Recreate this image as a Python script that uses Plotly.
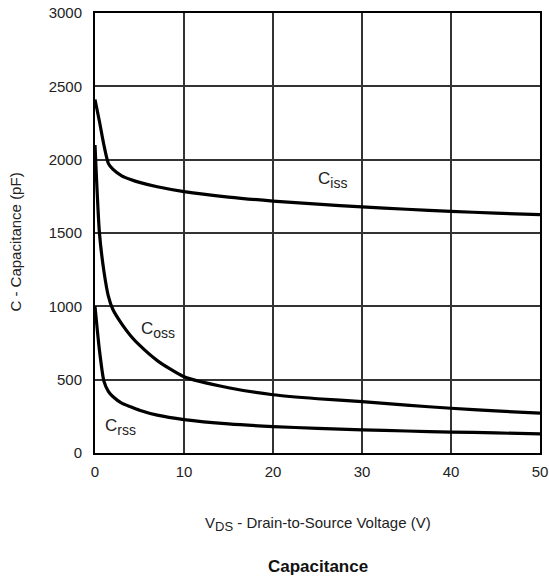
import plotly.graph_objects as go

# Drain-to-source voltage (V)
vds = [0, 0.5, 1, 1.5, 2, 3, 4, 5, 7, 10, 15, 20, 25, 30, 35, 40, 45, 50]

# Capacitances (pF)
ciss = [2410, 2260, 2100, 1975, 1935, 1890, 1865, 1845, 1815, 1782, 1745, 1718, 1697, 1678, 1662, 1648, 1635, 1625]
coss = [2100, 1500, 1240, 1070, 980, 880, 800, 735, 630, 520, 445, 397, 370, 350, 326, 305, 287, 272]
crss = [1000, 700, 490, 420, 385, 340, 315, 292, 258, 228, 198, 180, 168, 158, 150, 143, 137, 130]

x_ticks = [0, 10, 20, 30, 40, 50]
y_ticks = [0, 500, 1000, 1500, 2000, 2500, 3000]

# Curve labels: (name, subscript, x, y)
curve_labels = [
    ("C", "iss", 26.7, 1862),
    ("C", "oss", 7.1, 840),
    ("C", "rss", 2.85, 177),
]

FONT = "Liberation Sans, Arial, Helvetica, sans-serif"

fig = go.Figure()
for ys in (ciss, coss, crss):
    fig.add_trace(go.Scatter(
        x=vds, y=ys, mode="lines",
        line=dict(color="black", width=3.2, shape="spline", smoothing=0.6),
        showlegend=False, hoverinfo="skip",
    ))

for name, sub, x, y in curve_labels:
    fig.add_annotation(
        x=x, y=y, showarrow=False,
        text=f'{name}<sub><span style="font-size:14px">{sub}</span></sub>',
        font=dict(family=FONT, size=17, color="#222"),
    )

fig.add_annotation(xref="paper", yref="paper", x=0.5, y=-0.162,
                   text='V<sub><span style="font-size:13px">DS</span></sub> - Drain-to-Source Voltage (V)',
                   showarrow=False, yanchor="middle",
                   font=dict(family=FONT, size=15, color="#222"))
fig.add_annotation(xref="paper", yref="paper", x=0.5, y=-0.257,
                   text="<b>Capacitance</b>", showarrow=False, yanchor="middle",
                   font=dict(family=FONT, size=17, color="#111"))
fig.add_annotation(xref="paper", yref="paper", x=-0.178, y=0.48,
                   text="C - Capacitance (pF)", textangle=-90,
                   showarrow=False, xanchor="center", yanchor="middle",
                   font=dict(family=FONT, size=15, color="#222"))

axis_common = dict(
    showline=True, linecolor="black", linewidth=2, mirror=True,
    showgrid=True, gridcolor="#333", gridwidth=1.5,
    zeroline=False, ticks="", automargin=False,
    tickfont=dict(family=FONT, size=15, color="#222"),
)

fig.update_xaxes(range=[0, 50], tickvals=x_ticks, ticklabelstandoff=4, **axis_common)
fig.update_yaxes(range=[0, 3000], tickvals=y_ticks, ticklabelstandoff=8, **axis_common)

fig.update_layout(
    width=549, height=580,
    margin=dict(l=95, r=9, t=13, b=127),
    plot_bgcolor="white", paper_bgcolor="white",
)

fig.write_html("out.html")
